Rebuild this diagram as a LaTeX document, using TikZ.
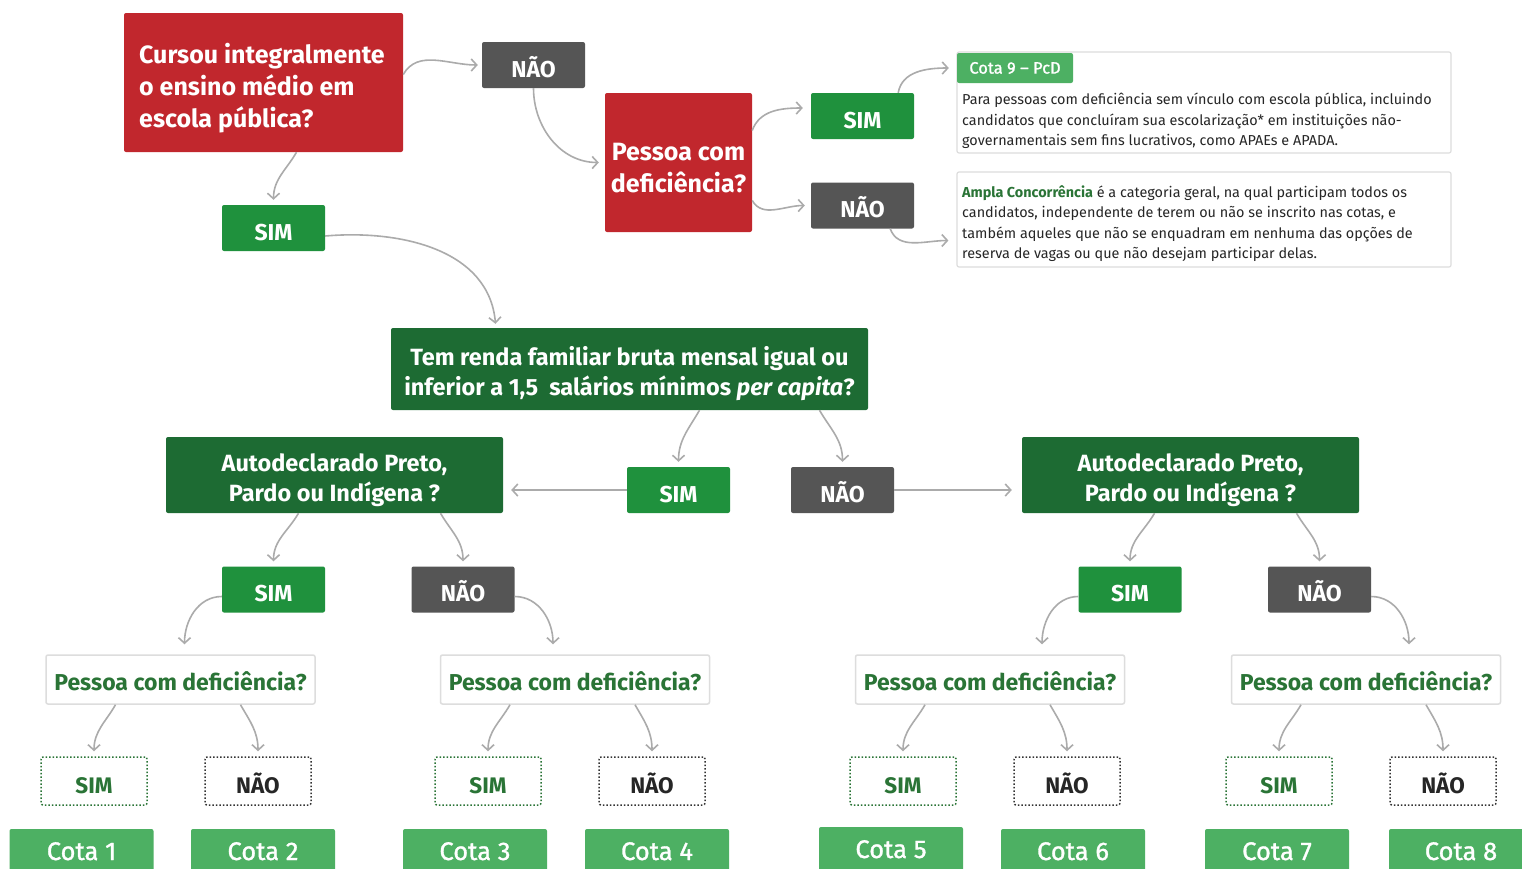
\documentclass[tikz,border=0pt]{standalone}
\usepackage{fontspec}
\setmainfont{Fira Sans}
\newfontface\medfont{Fira Sans}[FakeBold=1.2, Ligatures=TeX]
\usetikzlibrary{arrows.meta,positioning}

\definecolor{qred}{HTML}{C1272D}
\definecolor{qgreen}{HTML}{1D6B33}
\definecolor{simgreen}{HTML}{1F913D}
\definecolor{cotagreen}{HTML}{4DB063}
\definecolor{naogray}{HTML}{555555}
\definecolor{arrgray}{HTML}{ABABAB}
\definecolor{txtgreen}{HTML}{2A7436}
\definecolor{edgegray}{HTML}{DDDDDD}

\tikzset{
  box/.style={rounded corners=2pt, inner sep=0pt, align=center},
  redq/.style={box, fill=qred},
  greenq/.style={box, fill=qgreen},
  qtext/.style={inner sep=0pt, align=center, text=white, font=\fontsize{23.5}{30}\selectfont\bfseries},
  simbox/.style={box, fill=simgreen, text=white, minimum width=103pt, minimum height=46pt, text height=24pt, text depth=0pt, font=\fontsize{23}{24}\selectfont\bfseries},
  naobox/.style={simbox, fill=naogray},
  pcdbox/.style={box, draw=edgegray, line width=1.5pt, fill=white, text=txtgreen, minimum width=269pt, minimum height=49pt, text height=22pt, text depth=0pt, font=\fontsize{23}{24}\selectfont\bfseries},
  dotsim/.style={box, draw=txtgreen, dotted, line width=1.5pt, text=txtgreen, minimum width=106pt, minimum height=48pt, text height=24pt, text depth=0pt, font=\fontsize{22.5}{24}\selectfont\bfseries},
  dotnao/.style={dotsim, draw=black!80, text=black!85},
  cotabox/.style={box, fill=cotagreen, text=white, minimum width=144pt, minimum height=44pt, text height=18pt, text depth=0pt, font=\fontsize{25.5}{28}\selectfont\medfont},
  infobox/.style={box, draw=edgegray, line width=1.2pt, fill=white, minimum width=494pt},
  infotext/.style={inner sep=0pt, align=left, text=black!85, font=\fontsize{14.4}{20.5}\selectfont},
  arr/.style={draw=arrgray, line width=1.6pt, -{Straight Barb[length=5.5pt,width=12pt]}},
}

\begin{document}
\begin{tikzpicture}[x=1pt, y=-1pt]
  \useasboundingbox[fill=white] (0,0) rectangle (1522,868);

  % top row
  \node[redq, minimum width=279pt, minimum height=139pt] (escola) at (263.5,82.5) {};
  \node[qtext, align=left, anchor=west, font=\fontsize{25}{32}\selectfont\bfseries] (escolatxt) at (139,88) {Cursou integralmente\\o ensino médio em\\escola pública?};
  \node[naobox] (nao1) at (533.5,65) {NÃO};
  \node[redq, minimum width=147pt, minimum height=139pt] (pcd) at (678.5,162.5) {};
  \node[qtext, font=\fontsize{25}{32}\selectfont\bfseries] (pcdtxt) at (678.5,168) {Pessoa com\\deficiência?};
  \node[simbox] (sim2) at (862.5,116) {SIM};
  \node[naobox] (nao2) at (862.5,205.5) {NÃO};
  \node[simbox] (sim1) at (273.5,228) {SIM};

  % info boxes
  \node[infobox, minimum height=101pt] (cota9) at (1204,102.5) {};
  \node[box, fill=cotagreen, text=white, minimum width=116pt, minimum height=30pt, font=\fontsize{16.5}{18}\selectfont\medfont] (cota9lbl) at (1015,68) {Cota 9 – PcD};
  \node[infotext, anchor=north west] (cota9txt) at (962,93) {Para pessoas com deficiência sem vínculo com escola pública, incluindo\\candidatos que concluíram sua escolarização* em instituições não-\\governamentais sem fins lucrativos, como APAEs e APADA.};
  \node[infobox, minimum height=95pt] (ampla) at (1204,219.5) {};
  \node[infotext, anchor=north west] (amplatxt) at (962,185) {\textcolor{txtgreen}{\bfseries Ampla Concorrência} é a categoria geral, na qual participam todos os\\candidatos, independente de terem ou não se inscrito nas cotas, e\\também aqueles que não se enquadram em nenhuma das opções de\\reserva de vagas ou que não desejam participar delas.};

  % renda
  \node[greenq, minimum width=477pt, minimum height=82pt] (renda) at (629.5,369) {};
  \node[qtext] (rendatxt) at (629.5,374) {Tem renda familiar bruta mensal igual ou\\inferior a 1,5~ salários mínimos \textit{per capita}?};
  \node[simbox] (sim3) at (678.5,490) {SIM};
  \node[naobox] (nao3) at (842.5,490) {NÃO};
  \node[greenq, minimum width=337pt, minimum height=76pt] (auto1) at (334.5,475) {};
  \node[qtext] (auto1txt) at (334.5,480) {Autodeclarado Preto,\\Pardo ou Indígena ?};
  \node[greenq, minimum width=337pt, minimum height=76pt] (auto2) at (1190.5,475) {};
  \node[qtext] (auto2txt) at (1190.5,480) {Autodeclarado Preto,\\Pardo ou Indígena ?};
  \node[simbox] (sim4) at (273.5,589.5) {SIM};
  \node[naobox] (nao4) at (463,589.5) {NÃO};
  \node[simbox] (sim5) at (1130,589.5) {SIM};
  \node[naobox] (nao5) at (1319.5,589.5) {NÃO};

  % pessoa com deficiencia
  \node[pcdbox] (pw1) at (180.5,679.5) {Pessoa com deficiência?};
  \node[pcdbox] (pw2) at (575,679.5) {Pessoa com deficiência?};
  \node[pcdbox] (pw3) at (990,679.5) {Pessoa com deficiência?};
  \node[pcdbox] (pw4) at (1366,679.5) {Pessoa com deficiência?};
  \node[dotsim] (ds1) at (94,781) {SIM};   \node[dotnao] (dn1) at (258,781) {NÃO};
  \node[dotsim] (ds2) at (488,781) {SIM};  \node[dotnao] (dn2) at (652,781) {NÃO};
  \node[dotsim] (ds3) at (903,781) {SIM};  \node[dotnao] (dn3) at (1067,781) {NÃO};
  \node[dotsim] (ds4) at (1279,781) {SIM}; \node[dotnao] (dn4) at (1443,781) {NÃO};

  % cotas
  \node[cotabox] (c1) at (81.5,851) {Cota 1};
  \node[cotabox] (c2) at (263,851) {Cota 2};
  \node[cotabox] (c3) at (475,851) {Cota 3};
  \node[cotabox] (c4) at (657,851) {Cota 4};
  \node[cotabox] (c5) at (891,849) {Cota 5};
  \node[cotabox] (c6) at (1073,851) {Cota 6};
  \node[cotabox] (c7) at (1277,851) {Cota 7};
  \node[cotabox] (c8) at (1461,851) {Cota 8};

  % arrows
  \draw[arr] ([yshift=8pt]escola.east) to[out=60, in=180] ([xshift=-4pt]nao1.west);
  \draw[arr] (nao1.south) to[out=-90, in=180] ([xshift=-6pt]pcd.west);
  \draw[arr] ([xshift=33pt]escola.south) to[out=-120, in=90] ([yshift=5pt]sim1.north);
  \draw[arr] ([yshift=-8pt]sim1.east) to[out=5, in=95] ([xshift=-134pt, yshift=4pt]renda.north);
  \draw[arr] ([yshift=32pt]pcd.east) to[out=70, in=180] ([xshift=-8pt, yshift=8pt]sim2.west);
  \draw[arr] ([yshift=-38pt]pcd.east) to[out=-60, in=180] ([xshift=-6pt]nao2.west);
  \draw[arr] ([xshift=-16pt]sim2.north east) to[out=80, in=180] ([xshift=-8pt]cota9lbl.west);
  \draw[arr] ([xshift=-24pt]nao2.south east) to[out=-70, in=180] ([xshift=-8pt, yshift=-21pt]ampla.west);
  \draw[arr] ([xshift=70pt]renda.south) to[out=-120, in=90] ([yshift=5pt]sim3.north);
  \draw[arr] ([xshift=190pt]renda.south) to[out=-60, in=90] ([yshift=5pt]nao3.north);
  \draw[arr, shorten >=8pt] (sim3.west) -- (sim3.west -| auto1.east);
  \draw[arr, shorten >=10pt] (nao3.east) -- (nao3.east -| auto2.west);
  \draw[arr] ([xshift=-36pt]auto1.south) to[out=-120, in=90] ([yshift=5pt]sim4.north);
  \draw[arr] ([xshift=106pt]auto1.south) to[out=-60, in=90] ([yshift=5pt]nao4.north);
  \draw[arr] ([xshift=-36pt]auto2.south) to[out=-120, in=90] ([yshift=5pt]sim5.north);
  \draw[arr] ([xshift=106pt]auto2.south) to[out=-60, in=90] ([yshift=5pt]nao5.north);
  \draw[arr] ([yshift=-7pt]sim4.west) to[out=180, in=90] ([xshift=4pt, yshift=10pt]pw1.north);
  \draw[arr] ([yshift=-7pt]nao4.east) to[out=0, in=90] ([xshift=-22pt, yshift=10pt]pw2.north);
  \draw[arr] ([yshift=-7pt]sim5.west) to[out=180, in=90] ([xshift=52pt, yshift=10pt]pw3.north);
  \draw[arr] ([yshift=-7pt]nao5.east) to[out=0, in=90] ([xshift=43pt, yshift=10pt]pw4.north);
  \draw[arr] ([xshift=-65pt]pw1.south) to[out=-120, in=90] ([yshift=5pt]ds1.north);
  \draw[arr] ([xshift=60pt]pw1.south) to[out=-60, in=90] ([yshift=5pt]dn1.north);
  \draw[arr] ([xshift=-65pt]pw2.south) to[out=-120, in=90] ([yshift=5pt]ds2.north);
  \draw[arr] ([xshift=60pt]pw2.south) to[out=-60, in=90] ([yshift=5pt]dn2.north);
  \draw[arr] ([xshift=-65pt]pw3.south) to[out=-120, in=90] ([yshift=5pt]ds3.north);
  \draw[arr] ([xshift=60pt]pw3.south) to[out=-60, in=90] ([yshift=5pt]dn3.north);
  \draw[arr] ([xshift=-65pt]pw4.south) to[out=-120, in=90] ([yshift=5pt]ds4.north);
  \draw[arr] ([xshift=60pt]pw4.south) to[out=-60, in=90] ([yshift=5pt]dn4.north);
\end{tikzpicture}
\end{document}
